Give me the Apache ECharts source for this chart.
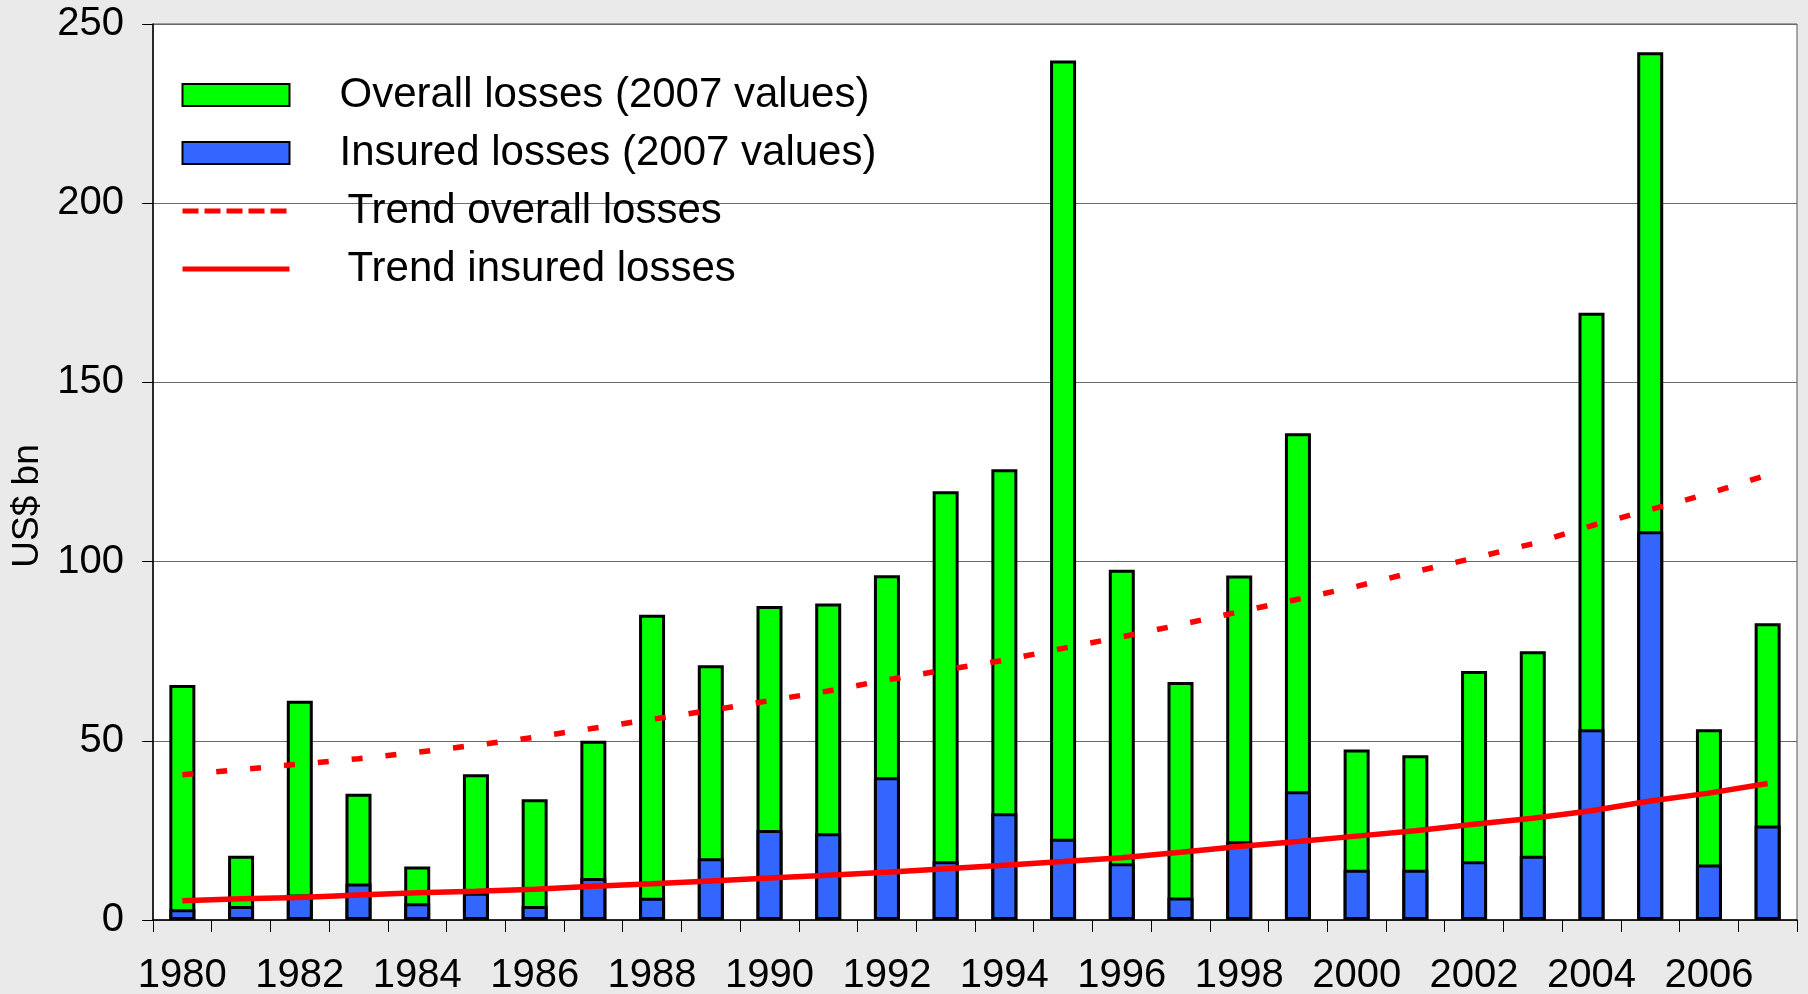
<!DOCTYPE html>
<html>
<head>
<meta charset="utf-8">
<script src="https://cdn.jsdelivr.net/npm/echarts@6/dist/echarts.min.js"></script>
<style>
html,body{margin:0;padding:0;background:#eaeaea;}
#chart{width:1808px;height:994px;}
</style>
</head>
<body>
<div id="chart"></div>
<script>
const years = ['1980','1981','1982','1983','1984','1985','1986','1987','1988','1989','1990','1991','1992','1993','1994','1995','1996','1997','1998','1999','2000','2001','2002','2003','2004','2005','2006','2007'];
const overallLosses = [65.6, 17.9, 61.2, 35.2, 14.9, 40.7, 33.7, 50.0, 85.2, 71.1, 87.6, 88.3, 96.2, 119.6, 125.8, 239.8, 97.7, 66.4, 96.1, 135.8, 47.6, 46.0, 69.5, 75.0, 169.4, 242.1, 53.2, 82.8];
const insuredLosses = [3.0, 3.9, 7.1, 10.2, 4.7, 7.6, 3.9, 11.7, 6.2, 17.2, 25.1, 24.2, 39.8, 16.4, 29.8, 22.7, 15.8, 6.3, 22.0, 35.9, 14.0, 14.0, 16.4, 17.9, 53.2, 108.5, 15.5, 26.4];
const trendOverall = [40.5, 42.0, 43.5, 45.0, 46.8, 48.8, 51.0, 53.5, 56.0, 58.5, 61.2, 63.9, 67.0, 69.8, 72.5, 75.8, 79.0, 82.4, 86.0, 89.5, 93.1, 97.2, 101.0, 105.0, 110.0, 114.5, 119.0, 124.2];
const trendInsured = [5.4, 5.9, 6.3, 7.0, 7.6, 8.0, 8.6, 9.4, 10.1, 10.9, 11.7, 12.5, 13.3, 14.3, 15.3, 16.3, 17.4, 18.9, 20.5, 21.9, 23.4, 24.9, 26.7, 28.4, 30.5, 33.2, 35.4, 38.1];
const yTicks = {min: 0, max: 250, interval: 50};

const FONT = 'Liberation Sans, Arial, sans-serif';
const chart = echarts.init(document.getElementById('chart'), null, {renderer: 'canvas'});
chart.setOption({
  backgroundColor: '#eaeaea',
  animation: false,
  grid: {left: 153, right: 11, top: 24, bottom: 74, containLabel: false, outerBoundsMode: 'none', show: true, backgroundColor: '#ffffff', borderColor: '#555', borderWidth: 1},
  legend: {
    orient: 'vertical',
    left: 175,
    top: 69,
    itemWidth: 107,
    itemHeight: 22,
    itemGap: 16,
    lineStyle: {width: 5},
    textStyle: {fontFamily: FONT, fontSize: 42, color: '#000', padding: [0, 0, 0, 45]},
    data: [
      {name: 'Overall losses (2007 values)', icon: 'rect'},
      {name: 'Insured losses (2007 values)', icon: 'rect'},
      {name: 'Trend overall losses', textStyle: {padding: [0, 0, 0, 53]}, itemStyle: {opacity: 0}, lineStyle: {type: [16, 6], width: 5}},
      {name: 'Trend insured losses', textStyle: {padding: [0, 0, 0, 53]}, itemStyle: {opacity: 0}, lineStyle: {width: 5}}
    ]
  },
  xAxis: {
    type: 'category',
    data: years,
    boundaryGap: true,
    axisLine: {lineStyle: {color: '#000', width: 1.5}},
    axisTick: {show: true, interval: 0, alignWithLabel: false, length: 12, lineStyle: {color: '#000', width: 1}},
    axisLabel: {interval: 1, fontFamily: FONT, fontSize: 40, color: '#000', margin: 36},
    splitLine: {show: false}
  },
  yAxis: {
    type: 'value',
    min: yTicks.min,
    max: yTicks.max,
    interval: yTicks.interval,
    name: 'US$ bn',
    nameLocation: 'middle',
    nameGap: 104,
    nameTextStyle: {fontFamily: FONT, fontSize: 37, color: '#000', padding: [0, 68, 0, 0]},
    axisLine: {show: true, lineStyle: {color: '#000', width: 1.5}},
    axisTick: {show: true, length: 11, lineStyle: {color: '#000', width: 1}},
    axisLabel: {fontFamily: FONT, fontSize: 40, color: '#000', margin: 29},
    splitLine: {show: true, lineStyle: {color: '#6a6a6a', width: 1}}
  },
  series: [
    {
      name: 'Overall losses (2007 values)',
      type: 'bar',
      data: overallLosses,
      barWidth: 26,
      barGap: '-100%',
      itemStyle: {color: '#00ff00', borderColor: '#000', borderWidth: 3}
    },
    {
      name: 'Insured losses (2007 values)',
      type: 'bar',
      data: insuredLosses,
      barWidth: 26,
      barGap: '-100%',
      itemStyle: {color: '#3366ff', borderColor: '#000', borderWidth: 3}
    },
    {
      name: 'Trend overall losses',
      type: 'line',
      data: trendOverall,
      symbol: 'none',
      z: 5,
      lineStyle: {color: '#ff0000', width: 5.5, type: [11, 23]},
      itemStyle: {color: '#ff0000'}
    },
    {
      name: 'Trend insured losses',
      type: 'line',
      data: trendInsured,
      symbol: 'none',
      z: 5,
      lineStyle: {color: '#ff0000', width: 5.5, type: 'solid'},
      itemStyle: {color: '#ff0000'}
    }
  ]
});
</script>
</body>
</html>
